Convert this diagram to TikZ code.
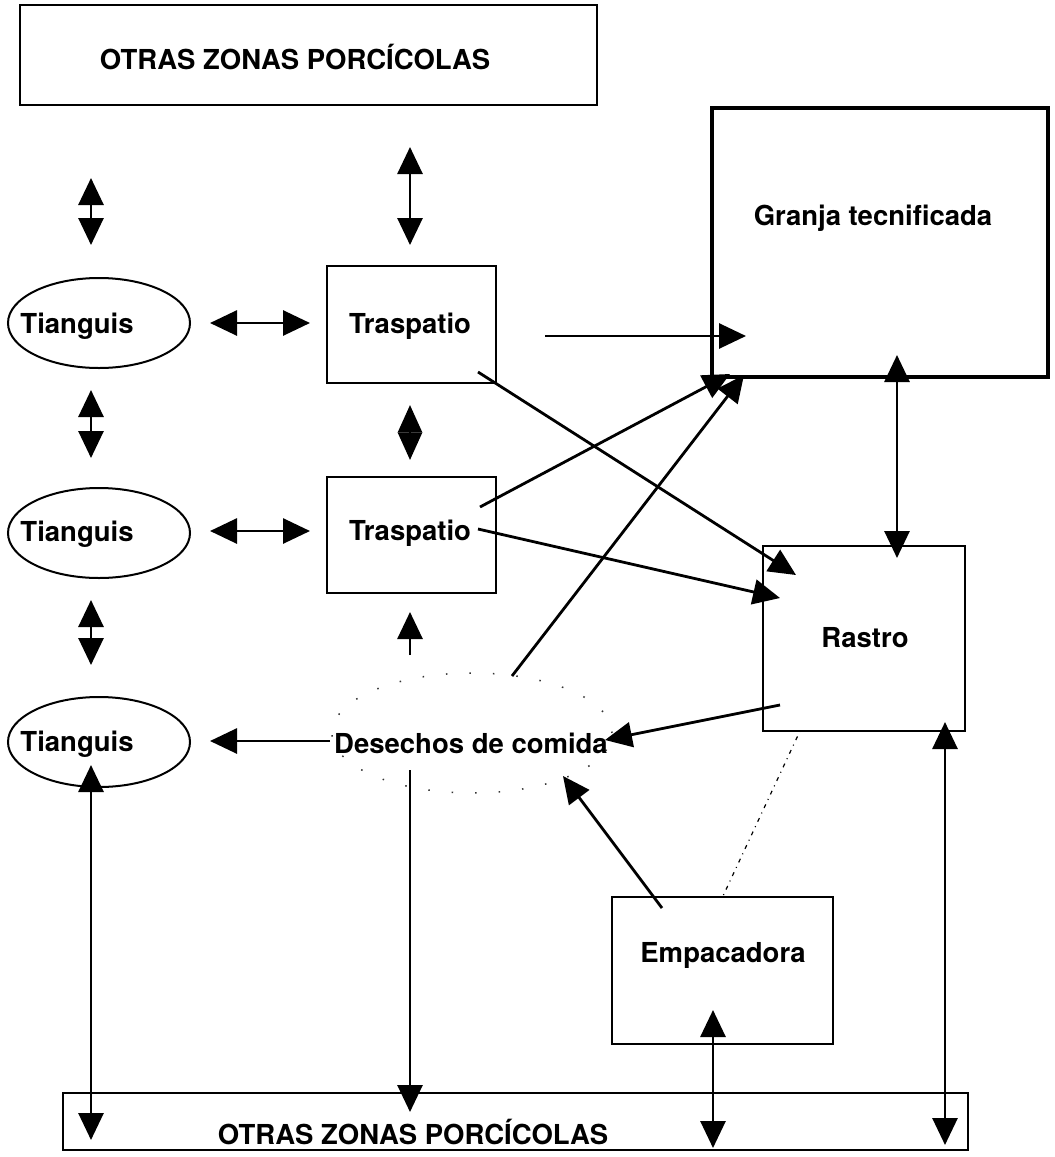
\documentclass[tikz,border=0pt]{standalone}
\usepackage{fontspec}
\setmainfont{TeX Gyre Heros}
\usetikzlibrary{arrows.meta,shapes.geometric}
\begin{document}
\begin{tikzpicture}[x=1pt,y=-1pt,
  box/.style={draw, line width=2.7pt, rectangle, inner sep=0pt},
  thickbox/.style={draw, line width=4.8pt, rectangle, inner sep=0pt},
  oval/.style={draw, line width=2pt, ellipse, inner sep=0pt, minimum width=182pt, minimum height=90pt},
  lab/.style={font=\fontsize{27.5}{31}\selectfont\bfseries, inner sep=0pt, anchor=center},
  tipT/.tip={Triangle[length=27pt,width=25pt]},
  arr/.style={line width=2.8pt, -tipT},
  darr/.style={line width=2.8pt, tipT-tipT},
  dotline/.style={line width=1.2pt, dash pattern=on 1pt off 5pt on 4pt off 5pt}]
\useasboundingbox (0,0) rectangle (1055,1157);

% boxes
\node[box, minimum width=577pt, minimum height=100pt] (top) at (308.5,55) {};
\node[lab] (toptxt) at (295,57) {OTRAS ZONAS PORCÍCOLAS};
\node[thickbox, minimum width=336pt, minimum height=269pt] (granja) at (880,242.5) {};
\node[lab] (granjatxt) at (873,218) {Granja tecnificada};
\node[box, minimum width=169pt, minimum height=117pt] (tras1) at (411.5,324.5) {};
\node[lab] (tras1txt) at (410,326) {Traspatio};
\node[box, minimum width=169pt, minimum height=116pt] (tras2) at (411.5,535) {};
\node[lab] (tras2txt) at (410,533) {Traspatio};
\node[box, minimum width=202pt, minimum height=185pt] (rastro) at (864,638.5) {};
\node[lab] (rastrotxt) at (865,638) {Rastro};
\node[box, minimum width=221pt, minimum height=147pt] (emp) at (722.5,970.5) {};
\node[lab] (emptxt) at (723,955) {Empacadora};
\node[box, minimum width=905pt, minimum height=57pt] (bottom) at (515.5,1121.5) {};
\node[lab] (bottomtxt) at (413,1132) {OTRAS ZONAS PORCÍCOLAS};

% tianguis
\node[oval] (tian1) at (99,323) {};
\node[lab] (tian1txt) at (77,326) {Tianguis};
\node[oval] (tian2) at (99,533) {};
\node[lab] (tian2txt) at (77,534) {Tianguis};
\node[oval] (tian3) at (99,742) {};
\node[lab] (tian3txt) at (77,744) {Tianguis};

% cloud
\node[ellipse, draw, inner sep=0pt, minimum width=280pt, minimum height=120pt,
      line width=1.5pt, dash pattern=on 1.5pt off 22pt, draw=black!80] (cloud) at (472,733) {};
\node[lab] (cloudtxt) at (471,743) {Desechos de comida};

% coordinates
\coordinate (a1t) at (91,178);  \coordinate (a1b) at (91,245);
\coordinate (a2t) at (410,147); \coordinate (a2b) at (410,245);
\coordinate (h1l) at (210,323); \coordinate (h1r) at (310,323);
\coordinate (a3t) at (91,390);  \coordinate (a3b) at (91,458);
\coordinate (d1t) at (410,405); \coordinate (d1b) at (410,460);
\coordinate (h2l) at (210,531); \coordinate (h2r) at (310,531);
\coordinate (a4t) at (91,600);  \coordinate (a4b) at (91,665);
\coordinate (c1s) at (410,655); \coordinate (c1e) at (410,612);
\coordinate (c2s) at (330,741); \coordinate (c2e) at (210,741);
\coordinate (c3s) at (410,770); \coordinate (c3e) at (410,1112);
\coordinate (t3t) at (91,765);  \coordinate (t3b) at (91,1140);
\coordinate (e1s) at (662,908); \coordinate (e1e) at (563,776);
\coordinate (r1s) at (780,705); \coordinate (r1e) at (605,740);
\coordinate (c4s) at (512,676); \coordinate (c4e) at (744,375);
\coordinate (t2as) at (480,507); \coordinate (t2ae) at (730,374);
\coordinate (t1as) at (478,372); \coordinate (t1ae) at (796,575);
\coordinate (t2bs) at (478,529); \coordinate (t2be) at (780,598);
\coordinate (t1bs) at (545,336); \coordinate (t1be) at (746,336);
\coordinate (g1t) at (897,355); \coordinate (g1b) at (897,558);
\coordinate (r2t) at (945,722); \coordinate (r2b) at (945,1145);
\coordinate (e2t) at (713,1010); \coordinate (e2b) at (713,1148);
\coordinate (dot1) at (800,731); \coordinate (dot2) at (723,896);

% connectors
\draw[darr] (a1t) -- (a1b);
\draw[darr] (a2t) -- (a2b);
\draw[darr] (h1l) -- (h1r);
\draw[darr] (a3t) -- (a3b);
\draw[line width=2.8pt, {Triangle[length=27.5pt,width=24pt]}-{Triangle[length=27.5pt,width=24pt]}] (d1t) -- (d1b);
\draw[darr] (h2l) -- (h2r);
\draw[darr] (a4t) -- (a4b);
\draw[arr] (c1s) -- (c1e);
\draw[arr] (c2s) -- (c2e);
\draw[arr] (c3s) -- (c3e);
\draw[darr] (t3t) -- (t3b);
\draw[arr] (e1s) -- (e1e);
\draw[arr] (r1s) -- (r1e);
\draw[arr] (c4s) -- (c4e);
\draw[arr] (t2as) -- (t2ae);
\draw[arr] (t1as) -- (t1ae);
\draw[arr] (t2bs) -- (t2be);
\draw[arr] (t1bs) -- (t1be);
\draw[darr] (g1t) -- (g1b);
\draw[darr] (r2t) -- (r2b);
\draw[darr] (e2t) -- (e2b);
\draw[dotline] (dot1) -- (dot2);
\end{tikzpicture}
\end{document}
